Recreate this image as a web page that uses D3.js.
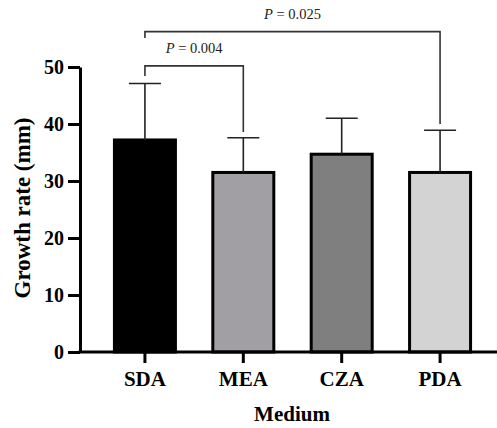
<!DOCTYPE html>
<html>
<head>
<meta charset="utf-8">
<script src="https://cdn.jsdelivr.net/npm/d3@7"></script>
<style>
  body { margin: 0; background: #fff; }
  svg { display: block; }
</style>
</head>
<body>
<script>
// data
var categories = ["SDA", "MEA", "CZA", "PDA"];
var means = [37.2, 31.5, 34.7, 31.5];
var errors = [9.9, 6.1, 6.3, 7.4];
var fills = ["#000000", "#a19fa3", "#7f7f7f", "#d3d3d3"];
var yTicks = [0, 10, 20, 30, 40, 50];
// significance brackets (heights in data units)
var compFrom = ["SDA", "SDA"];
var compTo = ["MEA", "PDA"];
var compP = ["0.004", "0.025"];
var compTop = [50.2, 56.2];
var compLeftEnd = [48.4, 55.1];
var compRightEnd = [38.6, 40.0];

var w = 497, h = 428;
var svg = d3.select("body").append("svg")
  .attr("width", w)
  .attr("height", h);

var font = "'Liberation Serif', 'Times New Roman', serif";

var x = d3.scaleBand()
  .domain(categories)
  .range([80, 505])
  .paddingInner(0.38)
  .paddingOuter(0.35);

var y = d3.scaleLinear()
  .domain([0, 50])
  .range([352, 67]);

var cx = function(c) { return x(c) + x.bandwidth() / 2; };

// bars
svg.selectAll("rect.bar")
  .data(means)
  .enter().append("rect")
  .attr("class", "bar")
  .attr("x", function(d, i) { return x(categories[i]); })
  .attr("y", function(d) { return y(d); })
  .attr("width", x.bandwidth())
  .attr("height", function(d) { return y(0) - y(d); })
  .attr("fill", function(d, i) { return fills[i]; })
  .attr("stroke", "#000")
  .attr("stroke-width", 3);

// error bars (upper only)
var eb = svg.selectAll("g.err")
  .data(means)
  .enter().append("g")
  .attr("class", "err")
  .attr("stroke", "#222")
  .attr("stroke-width", 1.6);
eb.append("line")
  .attr("x1", function(d, i) { return cx(categories[i]); })
  .attr("x2", function(d, i) { return cx(categories[i]); })
  .attr("y1", function(d) { return y(d); })
  .attr("y2", function(d, i) { return y(d + errors[i]); });
eb.append("line")
  .attr("x1", function(d, i) { return cx(categories[i]) - 16; })
  .attr("x2", function(d, i) { return cx(categories[i]) + 16; })
  .attr("y1", function(d, i) { return y(d + errors[i]); })
  .attr("y2", function(d, i) { return y(d + errors[i]); });

// axes
var yAxis = svg.append("g")
  .attr("transform", "translate(80,0)")
  .call(d3.axisLeft(y).tickValues(yTicks).tickSize(12).tickSizeOuter(0).tickPadding(4));
var xAxis = svg.append("g")
  .attr("transform", "translate(0,352)")
  .call(d3.axisBottom(x).tickSize(11).tickSizeOuter(0).tickPadding(8));

[yAxis, xAxis].forEach(function(a) {
  a.select(".domain").attr("stroke", "#000").attr("stroke-width", 3);
  a.selectAll(".tick line").attr("stroke", "#000").attr("stroke-width", 3);
  a.selectAll(".tick text")
    .attr("fill", "#000")
    .attr("font-family", font)
    .attr("font-weight", "bold");
});
yAxis.selectAll(".tick text").attr("font-size", "20px");
xAxis.selectAll(".tick text").attr("font-size", "21px");
// stretch the x axis line to the left spine
xAxis.select(".domain").attr("d", "M78.5,0H505");

// brackets
var br = svg.selectAll("g.bracket")
  .data(compP)
  .enter().append("g")
  .attr("class", "bracket");
br.append("path")
  .attr("fill", "none")
  .attr("stroke", "#333")
  .attr("stroke-width", 1.6)
  .attr("d", function(d, i) {
    var x1 = cx(compFrom[i]), x2 = cx(compTo[i]);
    return "M" + x1 + "," + y(compLeftEnd[i]) +
      "V" + y(compTop[i]) + "H" + x2 + "V" + y(compRightEnd[i]);
  });
var pt = br.append("text")
  .attr("x", function(d, i) { return (cx(compFrom[i]) + cx(compTo[i])) / 2; })
  .attr("y", function(d, i) { return y(compTop[i]) - 13; })
  .attr("text-anchor", "middle")
  .attr("font-family", font)
  .attr("font-size", "14.5px")
  .attr("fill", "#222");
pt.append("tspan").attr("font-style", "italic").text("P");
pt.append("tspan").text(function(d) { return " = " + d; });

// axis titles
svg.append("text")
  .attr("transform", "translate(30,208) rotate(-90)")
  .attr("text-anchor", "middle")
  .attr("font-family", font)
  .attr("font-weight", "bold")
  .attr("font-size", "23px")
  .text("Growth rate (mm)");

svg.append("text")
  .attr("x", 292)
  .attr("y", 421)
  .attr("text-anchor", "middle")
  .attr("font-family", font)
  .attr("font-weight", "bold")
  .attr("font-size", "21px")
  .text("Medium");
</script>
</body>
</html>
